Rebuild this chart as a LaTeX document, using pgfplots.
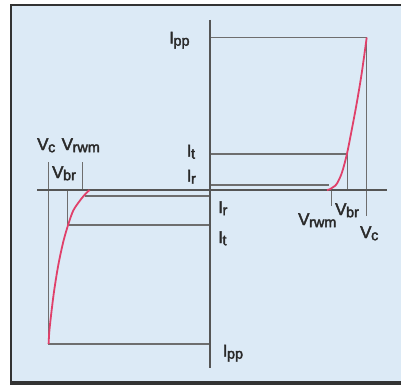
\documentclass[border=0pt]{standalone}
\usepackage{pgfplots}
\pgfplotsset{compat=1.18}
\usepackage{fontspec}
\setmainfont{Liberation Sans}
\newfontfamily\lblfont[FakeBold=2.5]{Liberation Sans}
\definecolor{bgblue}{HTML}{DCEAF6}
\definecolor{framec}{HTML}{333333}
\definecolor{axisc}{HTML}{555555}
\definecolor{linec}{HTML}{6E6E6E}
\definecolor{curvec}{HTML}{E0406A}
\definecolor{textc}{HTML}{2A2A2A}
\newcommand\lbl[2]{#1\kern-0.4pt\raisebox{-2.2pt}{\fontsize{14.5}{15}\selectfont #2}}

\begin{document}
\begin{tikzpicture}
\begin{axis}[width=401bp, height=385bp, scale only axis,
    xmin=0, xmax=401, ymin=0, ymax=385, y dir=reverse,
    hide axis, clip=false,
    nodes={font=\lblfont\fontsize{17}{19}\selectfont, text=textc, inner sep=0pt, anchor=base west}]
  % background and frame
  \fill[white] (axis cs:0,0) rectangle (axis cs:401,385);
  \fill[framec] (axis cs:10,4) rectangle (axis cs:401,385);
  \fill[bgblue] (axis cs:12,6) rectangle (axis cs:401,380.5);

  % thin guide lines, right half
  \addplot[linec, line width=1.2bp] coordinates {(210,37.3) (366.7,37.3) (366.7,216)};
  \addplot[linec, line width=1.2bp] coordinates {(210,154) (347.5,154) (347.5,190)};
  \addplot[linec, line width=1.2bp] coordinates {(210,185) (329,185)};
  \addplot[linec, line width=1.2bp] coordinates {(331.5,190) (331.5,206)};
  % thin guide lines, left half
  \addplot[linec, line width=1.2bp] coordinates {(48.5,162) (48.5,344) (210,344)};
  \addplot[linec, line width=1.2bp] coordinates {(82.7,162) (82.7,190)};
  \addplot[linec, line width=1.2bp] coordinates {(67.5,190) (67.5,225) (210,225)};
  \addplot[linec, line width=1.2bp] coordinates {(85,196) (210,196)};

  % main axes
  \addplot[axisc, line width=2.6bp] coordinates {(37,190) (387,190)};
  \addplot[axisc, line width=2.6bp] coordinates {(210,20) (210,368)};

  % characteristic curves
  \addplot[curvec, line width=1.8bp, smooth] coordinates {
    (327,190) (330,189.2) (333,187.2) (336.7,184) (341.7,173.3) (346.7,155)
    (351.7,130) (356.7,103.3) (361.7,73.3) (366.7,37.5)};
  \addplot[curvec, line width=1.8bp, smooth] coordinates {
    (89.5,190) (84.5,195) (80,200.5) (73.3,210.5) (68.3,224.3) (63.3,241.7)
    (58.3,265) (54,291.7) (50.7,318.3) (49.2,333) (48.6,344)};

  % labels
  \node at (axis cs:169,43.5) {\lbl{I}{pp}};
  \node at (axis cs:186.5,156.5) {\lbl{I}{t}};
  \node at (axis cs:186.5,181.5) {\lbl{I}{r}};
  \node at (axis cs:218,213) {\lbl{I}{r}};
  \node at (axis cs:218,243) {\lbl{I}{t}};
  \node at (axis cs:222.5,356.5) {\lbl{I}{pp}};
  \node at (axis cs:37,150) {\lbl{V}{c}};
  \node at (axis cs:61.5,150) {\lbl{V}{rwm}};
  \node at (axis cs:52,178) {\lbl{V}{br}};
  \node at (axis cs:335,215) {\lbl{V}{br}};
  \node at (axis cs:298,225) {\lbl{V}{rwm}};
  \node at (axis cs:360,238) {\lbl{V}{c}};
\end{axis}
\end{tikzpicture}
\end{document}
